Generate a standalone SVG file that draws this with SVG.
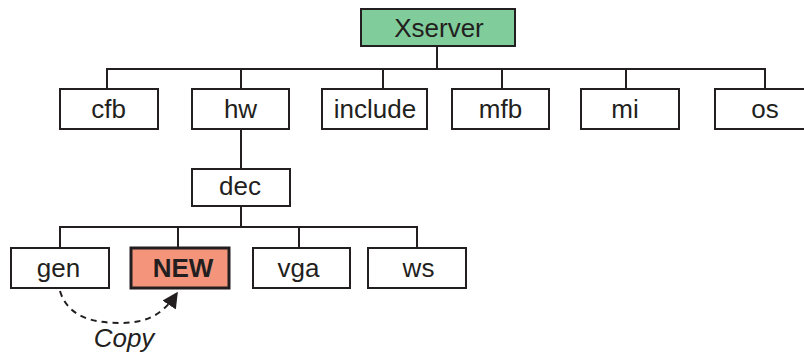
<svg xmlns="http://www.w3.org/2000/svg" width="804" height="353" viewBox="0 0 804 353">
  <style>
    .box { fill: #ffffff; stroke: #231f20; stroke-width: 2; }
    .root { fill: #80cc9b; stroke: #231f20; stroke-width: 2; }
    .new { fill: #f4957b; stroke: #231f20; stroke-width: 3; }
    .lbl { font-family: "Liberation Sans", Arial, sans-serif; font-size: 26px; fill: #231f20; text-anchor: middle; }
    .bold { font-weight: bold; }
    .wire { fill: none; stroke: #231f20; stroke-width: 2; }
    .copy { fill: none; stroke: #231f20; stroke-width: 2; stroke-dasharray: 6 5; }
  </style>
  <defs>
    <marker id="arrow" viewBox="0 0 10 10" refX="9" refY="5" markerWidth="16" markerHeight="16" markerUnits="userSpaceOnUse" orient="auto">
      <path d="M0,0 L10,5 L0,10 Z" fill="#231f20"/>
    </marker>
  </defs>

  <!-- tree connectors -->
  <g id="connectors">
    <path class="wire" d="M437,46 V69"/>
    <path class="wire" d="M107,89 V69 H765 V89"/>
    <path class="wire" d="M241,69 V89"/>
    <path class="wire" d="M383,69 V89"/>
    <path class="wire" d="M502,69 V89"/>
    <path class="wire" d="M626,69 V89"/>
    <path class="wire" d="M241,129 V169"/>
    <path class="wire" d="M241,206 V227"/>
    <path class="wire" d="M60,248 V227 H417 V248"/>
    <path class="wire" d="M178,227 V248"/>
    <path class="wire" d="M299,227 V248"/>
    <path class="copy" d="M60,291 C68,318 95,323 120,323 C145,323 162,316 177,293" marker-end="url(#arrow)"/>
  </g>

  <g id="xserver">
    <rect class="root" x="361" y="9" width="154" height="37"/>
    <text class="lbl" x="439" y="37">Xserver</text>
  </g>
  <g id="cfb">
    <rect class="box" x="60" y="89" width="98" height="40"/>
    <text class="lbl" x="108.5" y="118">cfb</text>
  </g>
  <g id="hw">
    <rect class="box" x="192" y="89" width="97" height="40"/>
    <text class="lbl" x="240.5" y="118">hw</text>
  </g>
  <g id="include">
    <rect class="box" x="322" y="89" width="105" height="40"/>
    <text class="lbl" x="375" y="118">include</text>
  </g>
  <g id="mfb">
    <rect class="box" x="452" y="89" width="97" height="40"/>
    <text class="lbl" x="500.5" y="118">mfb</text>
  </g>
  <g id="mi">
    <rect class="box" x="581" y="89" width="98" height="40"/>
    <text class="lbl" x="625" y="118">mi</text>
  </g>
  <g id="os">
    <rect class="box" x="715" y="89" width="98" height="40"/>
    <text class="lbl" x="765" y="118">os</text>
  </g>
  <g id="dec">
    <rect class="box" x="192" y="169" width="98" height="37"/>
    <text class="lbl" x="240" y="195">dec</text>
  </g>
  <g id="gen">
    <rect class="box" x="11" y="248" width="98" height="40"/>
    <text class="lbl" x="58.5" y="277">gen</text>
  </g>
  <g id="new">
    <rect class="new" x="131" y="248" width="98" height="40"/>
    <text class="lbl bold" x="183" y="277">NEW</text>
  </g>
  <g id="vga">
    <rect class="box" x="253" y="248" width="97" height="40"/>
    <text class="lbl" x="298.5" y="277">vga</text>
  </g>
  <g id="ws">
    <rect class="box" x="368" y="248" width="98" height="40"/>
    <text class="lbl" x="418.5" y="277">ws</text>
  </g>

  <text class="lbl" x="124" y="347" font-style="italic">Copy</text>
</svg>
